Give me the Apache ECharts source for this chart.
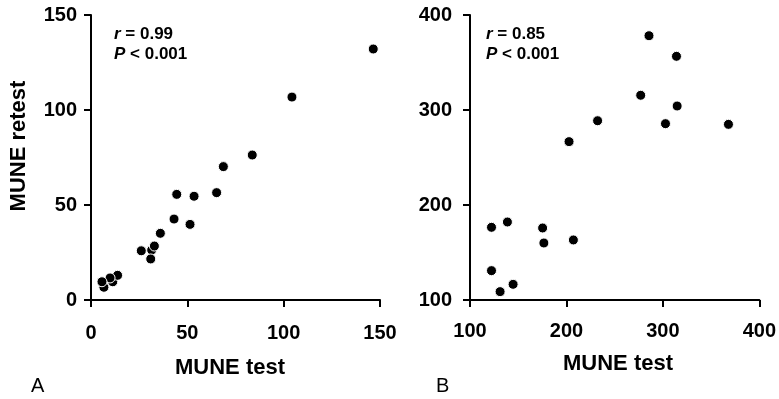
<!DOCTYPE html>
<html><head><meta charset="utf-8">
<script src="https://cdn.jsdelivr.net/npm/echarts@6/dist/echarts.min.js"></script>
<style>html,body{margin:0;padding:0;background:#fff}#c{width:779px;height:399px}</style>
</head><body><div id="c"></div>
<script>
// Panel A: MUNE test vs retest
const leftTest   = [6.7, 11.3, 31.5, 146.5, 104.3, 83.7, 68.7, 65.2, 44.5, 53.5, 43.1, 51.4, 36.0, 32.9, 26.1, 31.0, 13.8, 9.9, 5.7];
const leftRetest = [6.7, 9.6, 26.3, 132.1, 106.8, 76.3, 70.2, 56.5, 55.6, 54.6, 42.6, 39.8, 35.1, 28.4, 25.9, 21.6, 13.0, 11.6, 9.6];
// Panel B
const rightTest   = [285.6, 314.1, 277.0, 314.8, 232.3, 302.7, 368.0, 202.7, 122.3, 138.8, 175.3, 176.6, 207.2, 122.3, 144.7, 131.2];
const rightRetest = [378.2, 356.5, 315.5, 304.2, 288.7, 285.6, 284.9, 266.7, 176.5, 182.1, 175.8, 160.0, 163.2, 130.9, 116.5, 108.8];
const leftTicks = [0, 150, 50];    // min, max, interval
const rightTicks = [100, 400, 100];
const labels = {yName: 'MUNE retest', xName: 'MUNE test', statA: ['r = 0.99', 'P < 0.001'], statB: ['r = 0.85', 'P < 0.001'], panels: ['A', 'B']};

const FONT = '"Liberation Sans", Arial, sans-serif';
const chart = echarts.init(document.getElementById('c'));
function axisCommon(ticks, margin) {
  return {
    type: 'value', min: ticks[0], max: ticks[1], interval: ticks[2],
    axisLine: {show: true, onZero: false, lineStyle: {color: '#000', width: 2}},
    axisTick: {show: true, length: 7, lineStyle: {color: '#000', width: 2}},
    splitLine: {show: false},
    axisLabel: {color: '#000', fontFamily: FONT, fontWeight: 'bold', fontSize: 20, margin: margin}
  };
}
function pairs(xs, ys) { return xs.map((x, i) => [x, ys[i]]); }
const statStyle = (txt) => {
  const parts = txt.split(' ');
  return '{i|' + parts[0] + '}{n| ' + parts.slice(1).join(' ') + '}';
};
const richStat = {
  i: {fontFamily: FONT, fontWeight: 'bold', fontStyle: 'italic', fontSize: 17, fill: '#000', lineHeight: 20},
  n: {fontFamily: FONT, fontWeight: 'bold', fontSize: 17, fill: '#000', lineHeight: 20}
};
const option = {
  animation: false,
  backgroundColor: '#fff',
  grid: [
    {left: 91, top: 15, width: 289, height: 285},
    {left: 470, top: 15, width: 291, height: 285}
  ],
  xAxis: [
    Object.assign(axisCommon(leftTicks, 23), {gridIndex: 0}),
    Object.assign(axisCommon(rightTicks, 21), {gridIndex: 1})
  ],
  yAxis: [
    Object.assign(axisCommon(leftTicks, 14), {gridIndex: 0}),
    Object.assign(axisCommon(rightTicks, 18), {gridIndex: 1})
  ],
  series: [
    {type: 'scatter', xAxisIndex: 0, yAxisIndex: 0, symbolSize: 10,
     itemStyle: {color: '#000', borderColor: '#fff', borderWidth: 1, opacity: 1},
     data: pairs(leftTest, leftRetest)},
    {type: 'scatter', xAxisIndex: 1, yAxisIndex: 1, symbolSize: 10,
     itemStyle: {color: '#000', borderColor: '#fff', borderWidth: 1, opacity: 1},
     data: pairs(rightTest, rightRetest)}
  ],
  graphic: [
    {type: 'text', x: 19, y: 146, rotation: Math.PI / 2,
     style: {text: labels.yName, font: 'bold 22px ' + FONT, fill: '#000', align: 'center', verticalAlign: 'middle'}},
    {type: 'text', x: 230, y: 368,
     style: {text: labels.xName, font: 'bold 22px ' + FONT, fill: '#000', align: 'center', verticalAlign: 'middle'}},
    {type: 'text', x: 618, y: 364,
     style: {text: labels.xName, font: 'bold 22px ' + FONT, fill: '#000', align: 'center', verticalAlign: 'middle'}},
    {type: 'text', x: 31, y: 386,
     style: {text: labels.panels[0], font: '20px ' + FONT, fill: '#000', align: 'left', verticalAlign: 'middle'}},
    {type: 'text', x: 436, y: 386,
     style: {text: labels.panels[1], font: '20px ' + FONT, fill: '#000', align: 'left', verticalAlign: 'middle'}},
    {type: 'text', x: 114, y: 24,
     style: {text: statStyle(labels.statA[0]) + '\n' + statStyle(labels.statA[1]), rich: richStat}},
    {type: 'text', x: 486, y: 24,
     style: {text: statStyle(labels.statB[0]) + '\n' + statStyle(labels.statB[1]), rich: richStat}}
  ]
};
chart.setOption(option);
</script></body></html>
